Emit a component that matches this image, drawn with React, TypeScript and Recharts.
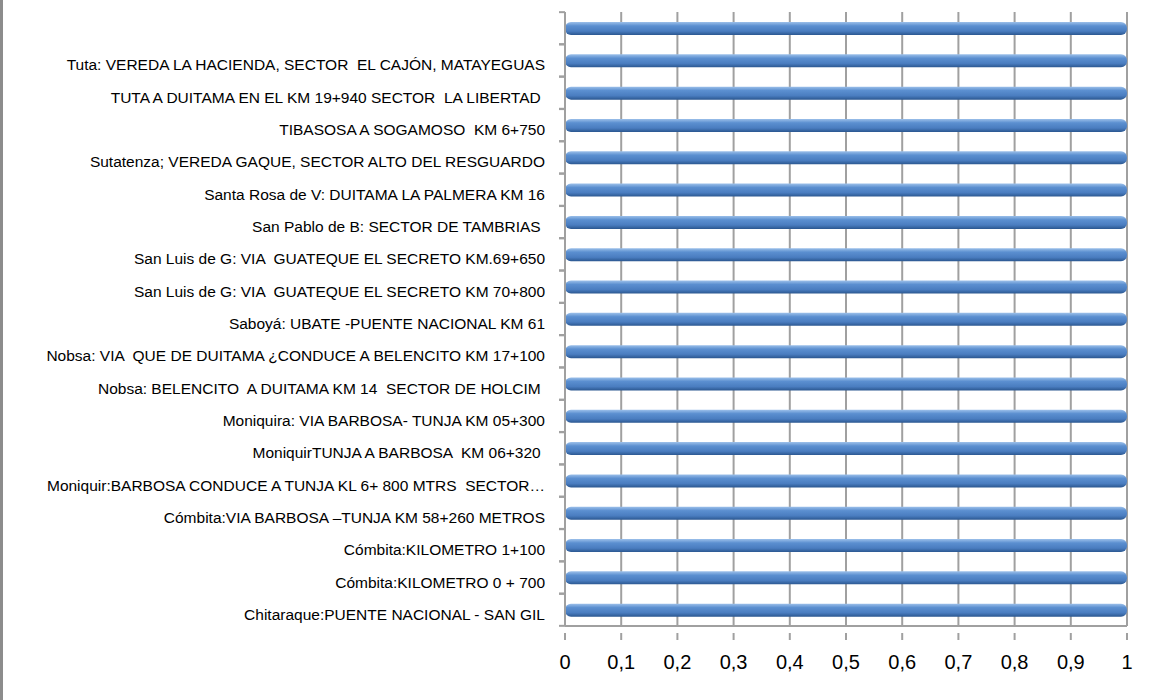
import { BarChart, Bar, XAxis, YAxis, CartesianGrid } from "recharts";

const places = [
  "",
  "Tuta: VEREDA LA HACIENDA, SECTOR  EL CAJÓN, MATAYEGUAS",
  "TUTA A DUITAMA EN EL KM 19+940 SECTOR  LA LIBERTAD ",
  "TIBASOSA A SOGAMOSO  KM 6+750",
  "Sutatenza; VEREDA GAQUE, SECTOR ALTO DEL RESGUARDO",
  "Santa Rosa de V: DUITAMA LA PALMERA KM 16",
  "San Pablo de B: SECTOR DE TAMBRIAS ",
  "San Luis de G: VIA  GUATEQUE EL SECRETO KM.69+650",
  "San Luis de G: VIA  GUATEQUE EL SECRETO KM 70+800",
  "Saboyá: UBATE -PUENTE NACIONAL KM 61",
  "Nobsa: VIA  QUE DE DUITAMA ¿CONDUCE A BELENCITO KM 17+100",
  "Nobsa: BELENCITO  A DUITAMA KM 14  SECTOR DE HOLCIM ",
  "Moniquira: VIA BARBOSA- TUNJA KM 05+300",
  "MoniquirTUNJA A BARBOSA  KM 06+320 ",
  "Moniquir:BARBOSA CONDUCE A TUNJA KL 6+ 800 MTRS  SECTOR…",
  "Cómbita:VIA BARBOSA –TUNJA KM 58+260 METROS",
  "Cómbita:KILOMETRO 1+100",
  "Cómbita:KILOMETRO 0 + 700",
  "Chitaraque:PUENTE NACIONAL - SAN GIL",
];

const counts = [1, 1, 1, 1, 1, 1, 1, 1, 1, 1, 1, 1, 1, 1, 1, 1, 1, 1, 1];

const xTicks = [0, 0.1, 0.2, 0.3, 0.4, 0.5, 0.6, 0.7, 0.8, 0.9, 1];

const data = places.map((place, i) => ({ place, count: counts[i] }));

const FONT = "'Liberation Sans', Arial, sans-serif";
const GRAY = "#a0a0a0";

const PlaceTick = (props: any) => {
  const { x, y, payload } = props;
  return (
    <g>
      <line x1={x + 2} x2={x + 8} y1={y - 16} y2={y - 16} stroke={GRAY} strokeWidth={2} />
      <line x1={x + 2} x2={x + 8} y1={y + 16} y2={y + 16} stroke={GRAY} strokeWidth={2} />
      <text
        x={x - 12}
        y={y}
        dy={10}
        textAnchor="end"
        fontSize={15.5}
        fontFamily={FONT}
        fill="#000"
        style={{ whiteSpace: "pre" }}
      >
        {payload.value}
      </text>
    </g>
  );
};

const ValueTick = (props: any) => {
  const { x, y, payload } = props;
  return (
    <g>
      <line x1={x} x2={x} y1={y - 1} y2={y + 6} stroke={GRAY} strokeWidth={2} />
      <text x={x} y={y + 35} textAnchor="middle" fontSize={20} fontFamily={FONT} fill="#000">
        {String(payload.value).replace(".", ",")}
      </text>
    </g>
  );
};

export default function App() {
  return (
    <div
      style={{
        position: "absolute",
        left: 0,
        top: 0,
        width: 1167,
        height: 700,
        background: "#fff",
        borderLeft: "3px solid #8c8c8c",
        boxSizing: "border-box",
      }}
    >
      <div style={{ marginLeft: -3 }}>
        <BarChart
          width={1167}
          height={700}
          data={data}
          layout="vertical"
          barCategoryGap={0}
          margin={{ top: 12, right: 40, bottom: 14, left: 0 }}
        >
          <defs>
            <linearGradient id="barFill" x1="0" y1="0" x2="0" y2="1">
              <stop offset="0%" stopColor="#9cc0ea" />
              <stop offset="30%" stopColor="#5b8fd0" />
              <stop offset="70%" stopColor="#4a7dc0" />
              <stop offset="100%" stopColor="#2b5790" />
            </linearGradient>
          </defs>
          <CartesianGrid horizontal={false} vertical stroke={GRAY} strokeWidth={2} />
          <XAxis
            type="number"
            domain={[0, 1]}
            ticks={xTicks}
            height={60}
            axisLine={{ stroke: GRAY, strokeWidth: 2 }}
            tickLine={false}
            tick={<ValueTick />}
            interval={0}
          />
          <YAxis
            type="category"
            dataKey="place"
            width={565}
            axisLine={{ stroke: GRAY, strokeWidth: 2 }}
            tickLine={false}
            tick={<PlaceTick />}
            interval={0}
          />
          <Bar
            dataKey="count"
            fill="url(#barFill)"
            barSize={13}
            radius={6}
            isAnimationActive={false}
          />
        </BarChart>
      </div>
    </div>
  );
}
